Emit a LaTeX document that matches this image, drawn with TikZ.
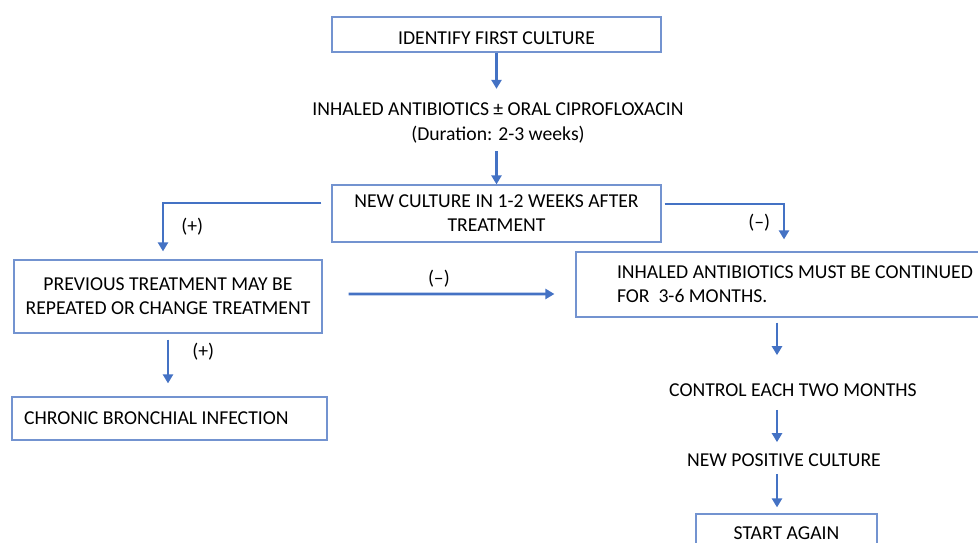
\documentclass[tikz,border=0pt]{standalone}
\usepackage{fontspec}
\setmainfont{Carlito}
\usetikzlibrary{arrows.meta, positioning}

\definecolor{flowblue}{HTML}{4472C4}
\definecolor{boxline}{HTML}{7393D0}

\tikzset{
    stage/.style={draw=boxline, line width=0.7pt, align=center, inner sep=0pt},
    note/.style={align=center, inner sep=0pt},
    sign/.style={inner sep=0pt},
    flow/.style={draw=flowblue, line width=1.6pt, -{Triangle[length=0.18cm, width=0.2cm]}},
}

\begin{document}
\begin{tikzpicture}[x=0.02cm, y=-0.02cm, font=\fontsize{11.2pt}{13.7pt}\selectfont]
    \useasboundingbox (0,0) rectangle (978,543);
    \clip (0,0) rectangle (978,543);

    % first culture
    \node[stage, minimum width=6.58cm, minimum height=0.7cm, text height=0.39cm] (identify) at (496.5,34.5) {IDENTIFY FIRST CULTURE};
    \node[note] (inhaled) at (498,123) {INHALED ANTIBIOTICS ± ORAL CIPROFLOXACIN\\(Duration: 2-3 weeks)};
    \node[stage, minimum width=6.58cm, minimum height=1.14cm] (newculture) at (496.5,213.5) {NEW CULTURE IN 1-2 WEEKS AFTER\\TREATMENT};

    % (+) side
    \node[stage, minimum width=6.16cm, minimum height=1.46cm] (previous) at (168,296.5) {PREVIOUS TREATMENT MAY BE\\REPEATED OR CHANGE TREATMENT};
    \node[stage, text width=5.82cm, inner xsep=0.24cm, minimum height=0.86cm, align=flush left] (chronic) at (169.5,418.5) {CHRONIC BRONCHIAL INFECTION};

    % (-) side
    \node[stage, text width=7.22cm, inner xsep=0.82cm, minimum height=1.3cm, align=flush left] (continued) at (797.5,284.5) {INHALED ANTIBIOTICS MUST BE CONTINUED\\FOR\ \ 3-6 MONTHS.};
    \node[note] (control) at (793,390) {CONTROL EACH TWO MONTHS};
    \node[note] (positive) at (784,460) {NEW POSITIVE CULTURE};
    \node[stage, minimum width=3.62cm, minimum height=0.76cm] (again) at (786.5,533) {START AGAIN};
    \coordinate (axis) at (777,320);

    \draw[flow, shorten >=0.28cm] (identify.south) -- (identify.south |- inhaled.north);
    \draw[flow, shorten <=0.16cm] (inhaled.south -| newculture.north) -- (newculture.north);

    \draw[flow, shorten >=0.16cm] ([shift={(-10,-10.5)}]newculture.west) -| ([shift={(-5,0)}]previous.north)
        node[sign, pos=0.71, right=0.34cm] {(+)};
    \draw[flow, shorten >=0.24cm] ([shift={(3,-9.5)}]newculture.east) -| ([shift={(-13.5,0)}]continued.north)
        node[sign, pos=0.7, left=0.25cm] {(\textendash)};

    \draw[flow, shorten <=0.12cm, shorten >=0.26cm] (previous.south) -- (previous.south |- chronic.north)
        node[sign, pos=0.28, right=0.46cm] {(+)};
    \draw[flow, shorten <=0.52cm, shorten >=0.42cm] ([shift={(0,-2.5)}]previous.east) -- ([shift={(0,9.5)}]continued.west)
        node[sign, pos=0.46, above=0.1cm] {(\textendash)};

    % control loop
    \draw[flow, shorten <=0.1cm, shorten >=0.56cm] (continued.south -| axis) -- (control.north -| axis);
    \draw[flow, shorten <=0.26cm, shorten >=0.22cm] (control.south -| axis) -- (positive.north -| axis);
    \draw[flow, shorten <=0.14cm, shorten >=0.12cm] (positive.south -| axis) -- (again.north -| axis);
\end{tikzpicture}
\end{document}
